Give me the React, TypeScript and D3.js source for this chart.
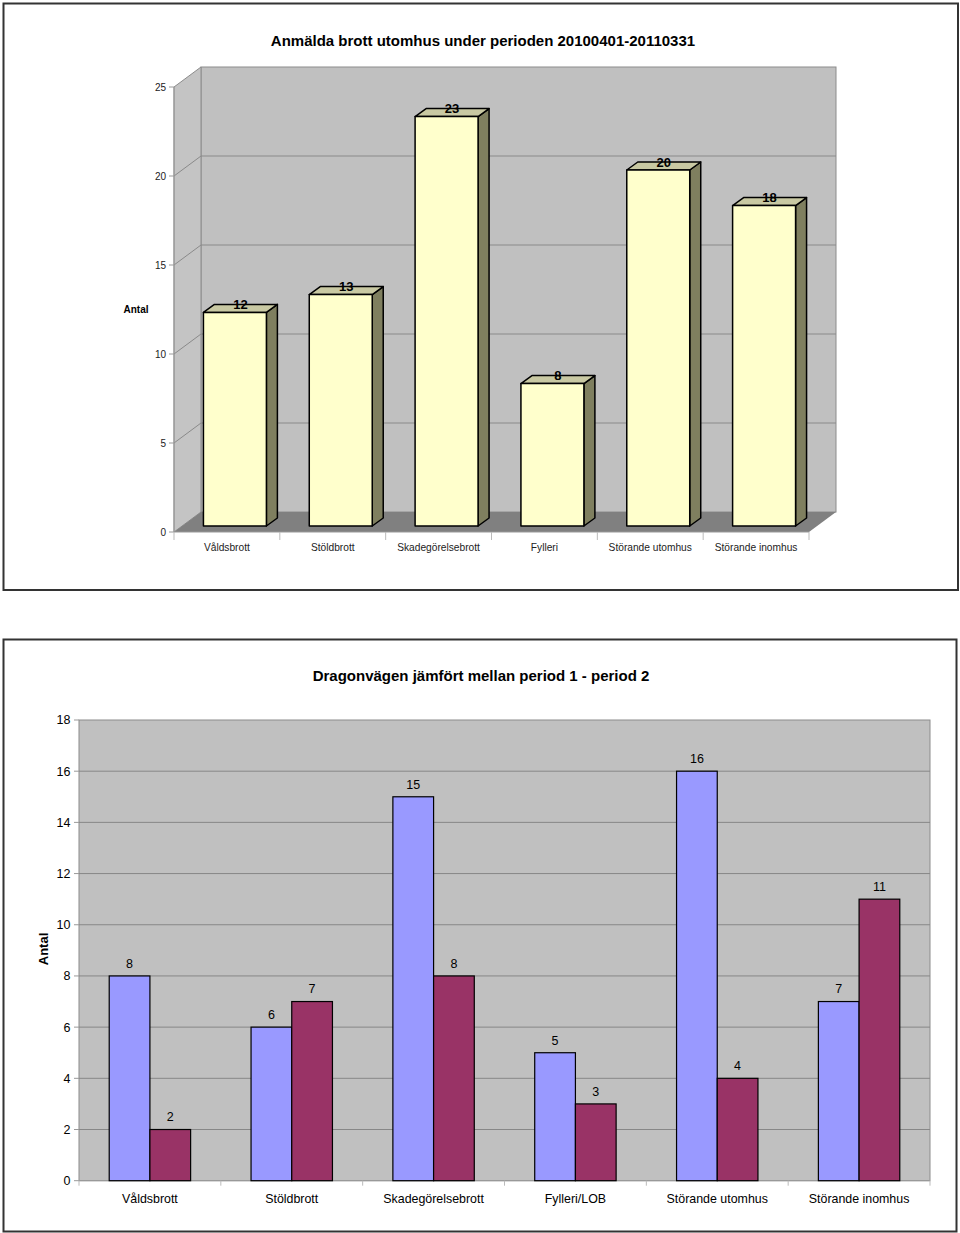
import React from "react";
import * as d3 from "d3";

const topTitle = "Anmälda brott utomhus under perioden 20100401-20110331";
const topCategories = ["Våldsbrott", "Stöldbrott", "Skadegörelsebrott", "Fylleri", "Störande utomhus", "Störande inomhus"];
const topValues = [12, 13, 23, 8, 20, 18];
const topTicks = [0, 5, 10, 15, 20, 25];

const bottomTitle = "Dragonvägen jämfört mellan period 1 - period 2";
const bottomCategories = ["Våldsbrott", "Stöldbrott", "Skadegörelsebrott", "Fylleri/LOB", "Störande utomhus", "Störande inomhus"];
const period1 = [8, 6, 15, 5, 16, 7];
const period2 = [2, 7, 8, 3, 4, 11];
const bottomTicks = [0, 2, 4, 6, 8, 10, 12, 14, 16, 18];
const seriesKeys = ["p1", "p2"];
const seriesColors = ["#9999ff", "#993366"];

const FONT = "'Liberation Sans', Arial, Helvetica, sans-serif";

function TopChart() {
  const y = d3.scaleLinear().domain([0, 25]).range([532, 87]);
  const x = d3.scaleBand<string>().domain(topCategories).range([174, 809]);
  const bw = x.bandwidth();
  const DX = 27, DY = -20; // wall depth
  const fx = 8, fy = -6; // bar front offset
  const bdx = 11, bdy = -8; // bar depth
  const barW = bw * 0.595;
  const x0 = 174, x1 = 809, y0 = y(0), yTop = y(25);
  return (
    <g fontFamily={FONT}>
      <rect x={3.5} y={3.5} width={954.5} height={586.5} fill="#fff" stroke="#333" strokeWidth={2} />
      <text x={483} y={46} textAnchor="middle" fontSize={15} fontWeight="bold">{topTitle}</text>
      {/* back wall */}
      <rect x={x0 + DX} y={yTop + DY} width={x1 - x0} height={y0 - yTop} fill="#c0c0c0" stroke="#8c8c8c" strokeWidth={1} />
      {/* side wall */}
      <polygon points={`${x0},${yTop} ${x0 + DX},${yTop + DY} ${x0 + DX},${y0 + DY} ${x0},${y0}`} fill="#c4c4c4" stroke="#8c8c8c" strokeWidth={1} />
      {/* floor */}
      <polygon points={`${x0},${y0} ${x1},${y0} ${x1 + DX},${y0 + DY} ${x0 + DX},${y0 + DY}`} fill="#808080" />
      {/* gridlines */}
      {topTicks.filter(t => t > 0 && t < 25).map(t => (
        <polyline key={t} points={`${x0},${y(t)} ${x0 + DX},${y(t) + DY} ${x1 + DX},${y(t) + DY}`} fill="none" stroke="#8a8a8a" strokeWidth={1} />
      ))}
      {/* y ticks */}
      {topTicks.map(t => (
        <g key={t}>
          <line x1={x0 - 5} x2={x0} y1={y(t)} y2={y(t)} stroke="#999" />
          <text x={166} y={y(t)} dy="0.35em" textAnchor="end" fontSize={10} fill="#222">{t}</text>
        </g>
      ))}
      <line x1={x0} x2={x0} y1={yTop} y2={y0} stroke="#999" />
      <line x1={x0} x2={x1} y1={y0} y2={y0} stroke="#999" />
      {d3.range(7).map(i => (
        <line key={i} x1={x0 + i * bw} x2={x0 + i * bw} y1={y0} y2={y0 + 8} stroke="#bbb" />
      ))}
      <text x={136} y={309} dy="0.35em" textAnchor="middle" fontSize={10} fontWeight="bold">Antal</text>
      {/* bars */}
      {topCategories.map((c, i) => {
        const v = topValues[i];
        const cx = (x(c) as number) + bw / 2 + fx;
        const L = cx - barW / 2, R = cx + barW / 2;
        const T = y(v) + fy, B = y(0) + fy;
        return (
          <g key={c} stroke="#000" strokeWidth={1.5} strokeLinejoin="round">
            <polygon points={`${R},${T} ${R + bdx},${T + bdy} ${R + bdx},${B + bdy} ${R},${B}`} fill="#7f7f5f" />
            <polygon points={`${L},${T} ${L + bdx},${T + bdy} ${R + bdx},${T + bdy} ${R},${T}`} fill="#c9c9a3" />
            <rect x={L} y={T} width={barW} height={B - T} fill="#ffffcc" />
            <text x={cx + bdx / 2} y={T + bdy} dy="0.35em" textAnchor="middle" fontSize={13} fontWeight="bold" stroke="none" fill="#000">{v}</text>
          </g>
        );
      })}
      {topCategories.map(c => (
        <text key={c} x={(x(c) as number) + bw / 2} y={547} dy="0.35em" textAnchor="middle" fontSize={10.2} fill="#222">{c}</text>
      ))}
    </g>
  );
}

function BottomChart() {
  const y = d3.scaleLinear().domain([0, 18]).range([1180.7, 720]);
  const x0s = d3.scaleBand<string>().domain(bottomCategories).range([79, 930]);
  const bw = x0s.bandwidth();
  const groupW = 81.4;
  const x1s = d3.scaleBand<string>().domain(seriesKeys).range([0, groupW]);
  const data = [period1, period2];
  const L = 79, R = 930, B = y(0), T = y(18);
  return (
    <g fontFamily={FONT}>
      <rect x={3.5} y={639.5} width={953} height={592} fill="#fff" stroke="#333" strokeWidth={2} />
      <text x={481} y={681} textAnchor="middle" fontSize={15} fontWeight="bold">{bottomTitle}</text>
      <rect x={L} y={T} width={R - L} height={B - T} fill="#c0c0c0" stroke="#8c8c8c" strokeWidth={1} />
      {bottomTicks.filter(t => t > 0 && t < 18).map(t => (
        <line key={t} x1={L} x2={R} y1={y(t)} y2={y(t)} stroke="#878787" />
      ))}
      {bottomTicks.map(t => (
        <g key={t}>
          <line x1={L - 5} x2={L} y1={y(t)} y2={y(t)} stroke="#999" />
          <text x={70.5} y={y(t)} dy="0.35em" textAnchor="end" fontSize={12.5}>{t}</text>
        </g>
      ))}
      <line x1={L} x2={R} y1={B} y2={B} stroke="#999" />
      {d3.range(7).map(i => (
        <line key={i} x1={L + i * bw} x2={L + i * bw} y1={B} y2={B + 5} stroke="#bbb" />
      ))}
      <text transform={`translate(43,949) rotate(-90)`} dy="0.35em" textAnchor="middle" fontSize={13} fontWeight="bold">Antal</text>
      {bottomCategories.map((c, i) => (
        <g key={c}>
          {seriesKeys.map((k, s) => {
            const v = data[s][i];
            const bx = (x0s(c) as number) + (bw - groupW) / 2 + (x1s(k) as number);
            const w = x1s.bandwidth();
            return (
              <g key={k}>
                <rect x={bx} y={y(v)} width={w} height={B - y(v)} fill={seriesColors[s]} stroke="#000" strokeWidth={1.2} />
                <text x={bx + w / 2} y={y(v) - 12.5} dy="0.35em" textAnchor="middle" fontSize={12.5}>{v}</text>
              </g>
            );
          })}
          <text x={(x0s(c) as number) + bw / 2} y={1199} dy="0.35em" textAnchor="middle" fontSize={12.4}>{c}</text>
        </g>
      ))}
    </g>
  );
}

export default function App() {
  return (
    <svg width={960} height={1233} style={{ position: "absolute", left: 0, top: 0, background: "#fff" }}>
      <TopChart />
      <BottomChart />
    </svg>
  );
}
